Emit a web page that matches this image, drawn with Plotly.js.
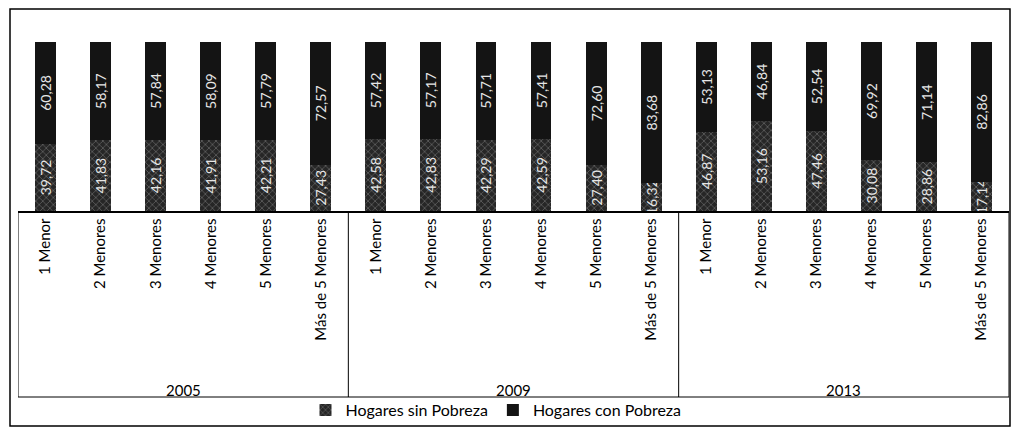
<!DOCTYPE html>
<html>
<head>
<meta charset="utf-8">
<script src="https://cdn.plot.ly/plotly-3.0.1.min.js"></script>
<style>html,body{margin:0;padding:0;background:#fff;}#chart{width:1021px;height:428px;}</style>
</head>
<body>
<div id="chart"></div>
<script>
const years = ['2005', '2009', '2013'];
const groups = ['1 Menor', '2 Menores', '3 Menores', '4 Menores', '5 Menores', 'Más de 5 Menores'];
const sinPobreza = [39.72, 41.83, 42.16, 41.91, 42.21, 27.43,
                    42.58, 42.83, 42.29, 42.59, 27.40, 16.32,
                    46.87, 53.16, 47.46, 30.08, 28.86, 17.14];
const conPobreza = [60.28, 58.17, 57.84, 58.09, 57.79, 72.57,
                    57.42, 57.17, 57.71, 57.41, 72.60, 83.68,
                    53.13, 46.84, 52.54, 69.92, 71.14, 82.86];
const seriesNames = ['Hogares sin Pobreza', 'Hogares con Pobreza'];

const W = 1021, H = 428;
const L = 18, R = 12, T = 42, B = 217;
const pw = W - L - R, ph = H - T - B;
const px = x => (x - L) / pw;
const py = y => (H - B - y) / ph;

// category positions built from the arrays
const xIdx = [], tickText = [];
years.forEach(y => groups.forEach(g => { xIdx.push(xIdx.length); tickText.push(g); }));
const nG = groups.length;

const font = 'Lato, "Open Sans", sans-serif';
const common = {
  type: 'bar',
  x: xIdx,
  width: 0.38,
  textposition: 'inside',
  insidetextanchor: 'middle',
  textangle: -90,
  constraintext: 'none',
  texttemplate: '%{y:.2f}',
  textfont: {family: font, size: 14, color: '#e6e6e6'},
  hoverinfo: 'skip'
};
const traces = [
  Object.assign({}, common, {
    name: seriesNames[0], y: sinPobreza,
    marker: {color: '#262626', line: {width: 0},
      pattern: {shape: 'x', fgcolor: '#6a6a6a', bgcolor: '#262626', size: 5, solidity: 0.25}}
  }),
  Object.assign({}, common, {
    name: seriesNames[1], y: conPobreza,
    marker: {color: '#141414', line: {width: 0}}
  })
];

const shapes = [
  {type: 'rect', xref: 'paper', yref: 'paper', x0: px(10), x1: px(1010), y0: py(426), y1: py(9),
    line: {color: '#000', width: 1.5}},
  {type: 'line', xref: 'x', yref: 'paper', x0: -0.5, x1: xIdx.length - 0.5, y0: py(397), y1: py(397),
    line: {color: '#000', width: 1}}
];
const annotations = [];
for (let k = 0; k <= years.length; k++) {
  const xb = k * nG - 0.5;
  shapes.push({type: 'line', xref: 'x', yref: 'paper', x0: xb, x1: xb, y0: 0, y1: py(397),
    line: {color: '#000', width: 1}});
}
years.forEach((y, k) => {
  annotations.push({text: y, xref: 'x', yref: 'paper', x: k * nG + (nG - 1) / 2, y: py(390),
    showarrow: false, yanchor: 'middle', font: {family: font, size: 15, color: '#000'}});
});

const layout = {
  width: W, height: H,
  margin: {l: L, r: R, t: T, b: B, autoexpand: false},
  barmode: 'stack',
  separators: ',.',
  paper_bgcolor: '#fff', plot_bgcolor: '#fff',
  font: {family: font, color: '#000'},
  showlegend: true,
  legend: {orientation: 'h', x: px(496), xanchor: 'center', y: py(410), yanchor: 'middle',
    bgcolor: 'rgba(0,0,0,0)', font: {family: font, size: 16, color: '#000'}, traceorder: 'normal'},
  xaxis: {
    range: [-0.5, xIdx.length - 0.5], automargin: false,
    tickmode: 'array', tickvals: xIdx, ticktext: tickText, tickangle: -90,
    tickfont: {family: font, size: 15, color: '#000'},
    showline: true, linecolor: '#000', linewidth: 1.5,
    ticks: '', showgrid: false, zeroline: false
  },
  yaxis: {range: [0, 100], visible: false, showgrid: false, zeroline: false},
  shapes: shapes,
  annotations: annotations
};
Plotly.newPlot('chart', traces, layout, {staticPlot: true});
</script>
</body>
</html>
